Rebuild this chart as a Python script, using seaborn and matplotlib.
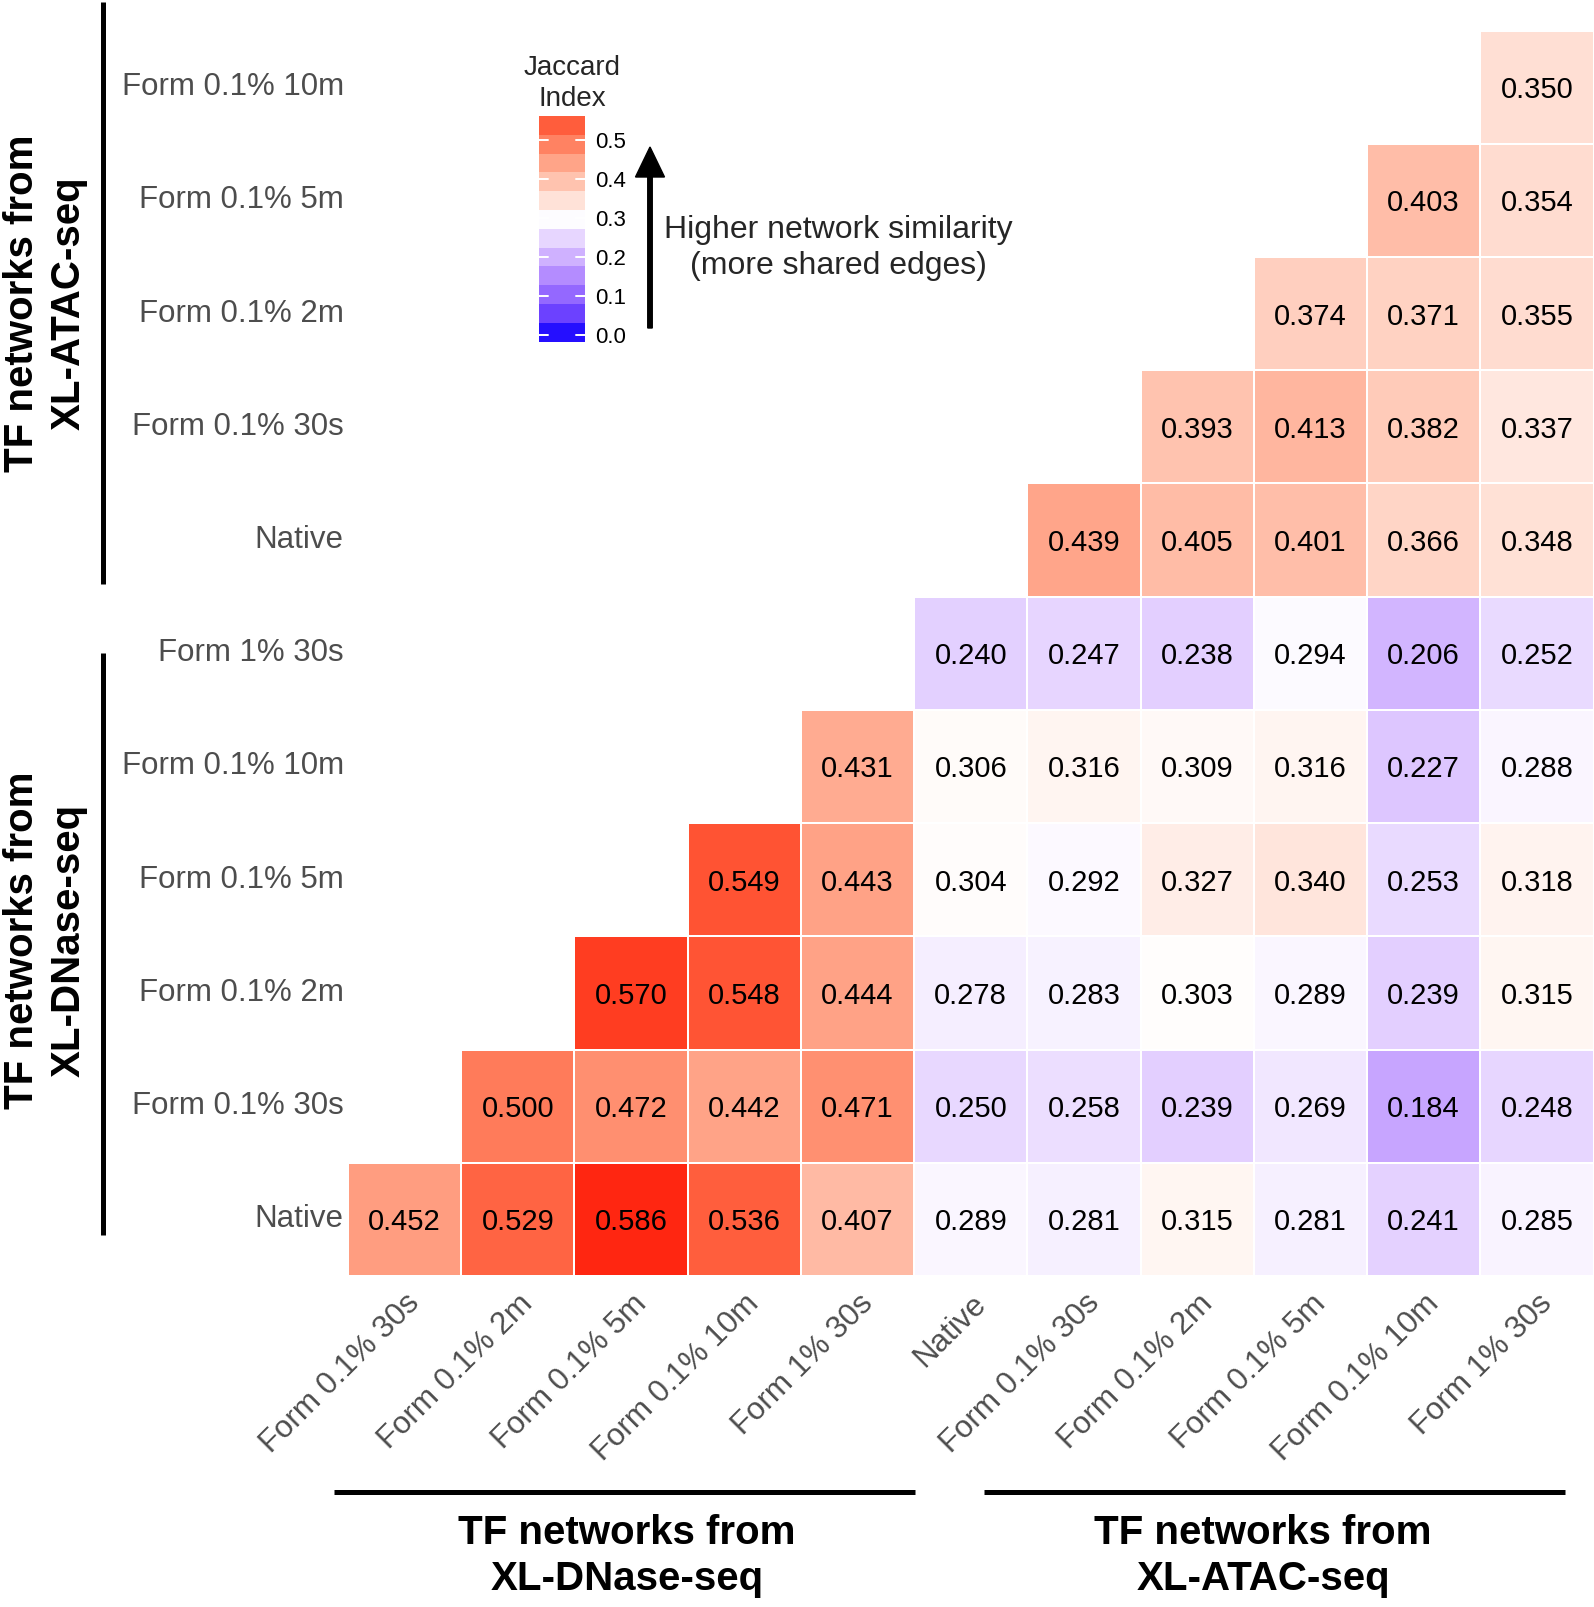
import numpy as np
import matplotlib
matplotlib.use("Agg")
import matplotlib.pyplot as plt
from matplotlib.colors import ListedColormap, Normalize
import seaborn as sns

sns.set_theme(style="white")
plt.rcParams['font.family'] = ['Liberation Sans', 'DejaVu Sans']

# --- DATA ---
row_labels = ["Form 0.1% 10m", "Form 0.1% 5m", "Form 0.1% 2m", "Form 0.1% 30s", "Native",
              "Form 1% 30s", "Form 0.1% 10m", "Form 0.1% 5m", "Form 0.1% 2m", "Form 0.1% 30s", "Native"]
col_labels = ["Form 0.1% 30s", "Form 0.1% 2m", "Form 0.1% 5m", "Form 0.1% 10m", "Form 1% 30s",
              "Native", "Form 0.1% 30s", "Form 0.1% 2m", "Form 0.1% 5m", "Form 0.1% 10m", "Form 1% 30s"]

# rows top to bottom, values for the right-most columns only (lower triangle)
atac_10m = [0.350]
atac_5m = [0.403, 0.354]
atac_2m = [0.374, 0.371, 0.355]
atac_30s = [0.393, 0.413, 0.382, 0.337]
atac_native = [0.439, 0.405, 0.401, 0.366, 0.348]
dnase_1pct_30s = [0.240, 0.247, 0.238, 0.294, 0.206, 0.252]
dnase_10m = [0.431, 0.306, 0.316, 0.309, 0.316, 0.227, 0.288]
dnase_5m = [0.549, 0.443, 0.304, 0.292, 0.327, 0.340, 0.253, 0.318]
dnase_2m = [0.570, 0.548, 0.444, 0.278, 0.283, 0.303, 0.289, 0.239, 0.315]
dnase_30s = [0.500, 0.472, 0.442, 0.471, 0.250, 0.258, 0.239, 0.269, 0.184, 0.248]
dnase_native = [0.452, 0.529, 0.586, 0.536, 0.407, 0.289, 0.281, 0.315, 0.281, 0.241, 0.285]

rows = [atac_10m, atac_5m, atac_2m, atac_30s, atac_native, dnase_1pct_30s,
        dnase_10m, dnase_5m, dnase_2m, dnase_30s, dnase_native]

n = len(col_labels)
mat = np.full((len(rows), n), np.nan)
for i, r in enumerate(rows):
    mat[i, n - len(r):] = r

legend_ticks = [0.0, 0.1, 0.2, 0.3, 0.4, 0.5]

# --- COLOUR SCALE (blue - white - red, interpolated in Lab like ggplot) ---
M_RGB2XYZ = np.array([[0.4124, 0.3576, 0.1805], [0.2126, 0.7152, 0.0722], [0.0193, 0.1192, 0.9505]])
WHITE_XYZ = np.array([0.95047, 1.0, 1.08883])


def srgb_to_lab(rgb):
    c = np.asarray(rgb, float)
    lin = np.where(c <= 0.04045, c / 12.92, ((c + 0.055) / 1.055) ** 2.4)
    xyz = M_RGB2XYZ @ lin / WHITE_XYZ
    d = 6 / 29
    f = np.where(xyz > d ** 3, np.cbrt(xyz), xyz / (3 * d * d) + 4 / 29)
    return np.array([116 * f[1] - 16, 500 * (f[0] - f[1]), 200 * (f[1] - f[2])])


def lab_to_srgb(lab):
    L, a, b = lab
    fy = (L + 16) / 116
    f = np.array([fy + a / 500, fy, fy - b / 200])
    d = 6 / 29
    xyz = np.where(f > d, f ** 3, 3 * d * d * (f - 4 / 29)) * WHITE_XYZ
    lin = np.clip(np.linalg.inv(M_RGB2XYZ) @ xyz, 0, 1)
    c = np.where(lin <= 0.0031308, 12.92 * lin, 1.055 * lin ** (1 / 2.4) - 0.055)
    return np.clip(c, 0, 1)


lab_lo, lab_mid, lab_hi = srgb_to_lab([0, 0, 1]), srgb_to_lab([1, 1, 1]), srgb_to_lab([1, 0, 0])
cols = []
for t in np.linspace(0, 1, 512):
    if t < 0.5:
        lab = lab_lo + (lab_mid - lab_lo) * (t / 0.5)
    else:
        lab = lab_mid + (lab_hi - lab_mid) * ((t - 0.5) / 0.5)
    cols.append(lab_to_srgb(lab))
cmap = ListedColormap(cols)
VMIN, VMAX = 0.0, 0.6
norm = Normalize(VMIN, VMAX)

# --- FIGURE ---
W, H = 1594, 1607
fig = plt.figure(figsize=(W / 100, H / 100), dpi=100)


def rect(x0, y0, x1, y1):
    return [x0 / W, 1 - y1 / H, (x1 - x0) / W, (y1 - y0) / H]


ax = fig.add_axes(rect(348, 30.5, 1593.5, 1276))
ax.set_facecolor("none")
sns.heatmap(mat, ax=ax, cmap=cmap, vmin=VMIN, vmax=VMAX, cbar=False,
            annot=True, fmt=".3f",
            annot_kws=dict(size=21, color="black", va="center_baseline"),
            linewidths=1.3, linecolor="white",
            xticklabels=col_labels, yticklabels=row_labels)
ax.tick_params(axis="both", length=0)
ax.tick_params(axis="y", pad=3)
ax.tick_params(axis="x", pad=9)
for t in ax.get_yticklabels():
    t.set_rotation(0)
    t.set_fontsize(22.5)
    t.set_color("#4D4D4D")
for t in ax.get_xticklabels():
    t.set_rotation(45)
    t.set_ha("right")
    t.set_va("top")
    t.set_rotation_mode("anchor")
    t.set_fontsize(22.5)
    t.set_color("#4D4D4D")

# overlay in pixel coordinates for brackets, titles and the arrow
over = fig.add_axes([0, 0, 1, 1])
over.set_xlim(0, W)
over.set_ylim(H, 0)
over.axis("off")
over.patch.set_alpha(0)
over.set_zorder(10)

# --- GROUP BRACKETS AND TITLES ---
lw = 3.6
over.plot([102.7, 102.7], [2, 584], color="black", lw=lw, solid_capstyle="butt")
over.plot([102.7, 102.7], [653, 1235], color="black", lw=lw, solid_capstyle="butt")
over.plot([334, 915], [1491.5, 1491.5], color="black", lw=lw, solid_capstyle="butt")
over.plot([984, 1565], [1491.5, 1491.5], color="black", lw=lw, solid_capstyle="butt")

tkw = dict(fontsize=29, fontweight="bold", color="black", ha="center", va="center")
over.text(627, 1533, "TF networks from", **tkw)
over.text(627, 1579, "XL-DNase-seq", **tkw)
over.text(1263, 1533, "TF networks from", **tkw)
over.text(1263, 1579, "XL-ATAC-seq", **tkw)
over.text(22.5, 303, "TF networks from", rotation=90, **tkw)
over.text(68.5, 303, "XL-ATAC-seq", rotation=90, **tkw)
over.text(22.5, 940, "TF networks from", rotation=90, **tkw)
over.text(68.5, 940, "XL-DNase-seq", rotation=90, **tkw)

# --- LEGEND (stepped colour bar) ---
cax = fig.add_axes(rect(539, 116, 585, 341.7))
edges = np.linspace(-0.017, 0.5615, 13)
centers = (edges[:-1] + edges[1:]) / 2
for lo, hi, c in zip(edges[:-1], edges[1:], centers):
    cax.axhspan(lo, hi, color=cmap(norm(c)), lw=0)
cax.set_ylim(edges[0], edges[-1])
cax.set_xlim(0, 1)
for v in legend_ticks:
    cax.plot([0, 0.2], [v, v], color="white", lw=1.4)
    cax.plot([0.8, 1], [v, v], color="white", lw=1.4)
cax.set_xticks([])
cax.yaxis.tick_right()
cax.set_yticks(legend_ticks)
cax.set_yticklabels([f"{v:.1f}" for v in legend_ticks], fontsize=16, color="black")
cax.tick_params(axis="y", length=0, pad=7)
for s in cax.spines.values():
    s.set_visible(False)
over.text(572, 68, "Jaccard", fontsize=20, ha="center", va="center")
over.text(572, 99, "Index", fontsize=20, ha="center", va="center")

# --- ARROW ANNOTATION ---
over.arrow(650, 328, 0, -181, width=4.5, head_width=29, head_length=30,
           length_includes_head=True, color="black")
over.text(838, 230, "Higher network similarity", fontsize=23, ha="center", va="center")
over.text(838, 266, "(more shared edges)", fontsize=23, ha="center", va="center")

fig.savefig("out.png", dpi=100, facecolor="white")
